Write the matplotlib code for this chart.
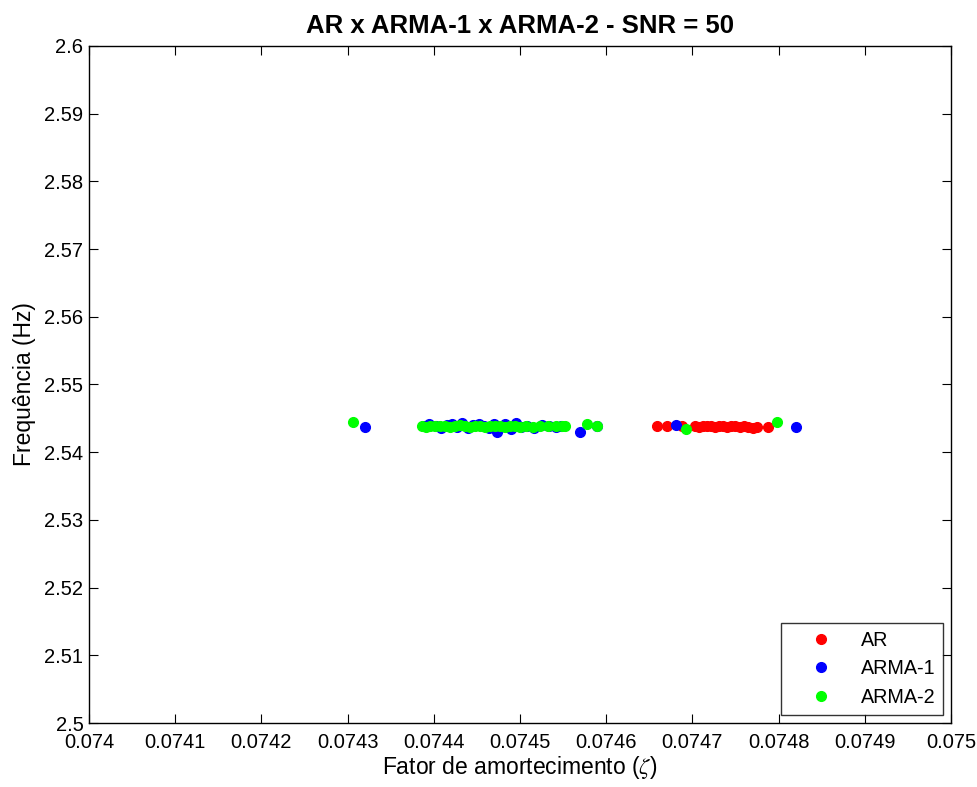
import matplotlib
matplotlib.use("Agg")
import matplotlib.pyplot as plt

plt.rcParams['font.family'] = ['Liberation Sans', 'DejaVu Sans']
plt.rcParams['mathtext.fontset'] = 'stix'

# AR estimates (damping factor, frequency)
ar_zeta = [0.0746589, 0.0746705, 0.0746879, 0.0747030, 0.0747076, 0.0747122,
           0.0747169, 0.0747215, 0.0747262, 0.0747308, 0.0747354, 0.0747401,
           0.0747447, 0.0747494, 0.0747552, 0.0747598, 0.0747644, 0.0747702,
           0.0747749, 0.0747876]
ar_freq = [2.5439, 2.5439, 2.5438, 2.5438, 2.5437, 2.5438, 2.5439, 2.5438,
           2.5437, 2.5438, 2.5438, 2.5437, 2.5438, 2.5438, 2.5437, 2.5438,
           2.5437, 2.5436, 2.5437, 2.5437]

# ARMA-1 estimates
arma1_zeta = [0.0743200, 0.0743890, 0.0743950, 0.0744020, 0.0744080, 0.0744150,
              0.0744210, 0.0744270, 0.0744330, 0.0744400, 0.0744460, 0.0744520,
              0.0744580, 0.0744640, 0.0744700, 0.0744730, 0.0744760, 0.0744830,
              0.0744890, 0.0744950, 0.0745010, 0.0745080, 0.0745160, 0.0745250,
              0.0745340, 0.0745420, 0.0745480, 0.0745700, 0.0745890, 0.0746810,
              0.0748200]
arma1_freq = [2.5437, 2.5439, 2.5442, 2.5438, 2.5436, 2.5440, 2.5441, 2.5437,
              2.5443, 2.5436, 2.5440, 2.5442, 2.5438, 2.5435, 2.5441, 2.5430,
              2.5436, 2.5442, 2.5434, 2.5443, 2.5437, 2.5439, 2.5436, 2.5440,
              2.5438, 2.5437, 2.5439, 2.5430, 2.5438, 2.5440, 2.5437]

# ARMA-2 estimates
arma2_zeta = [0.0743062, 0.0743863, 0.0743909, 0.0743956, 0.0744014, 0.0744072,
              0.0744130, 0.0744188, 0.0744246, 0.0744304, 0.0744362, 0.0744420,
              0.0744478, 0.0744536, 0.0744594, 0.0744652, 0.0744710, 0.0744768,
              0.0744826, 0.0744884, 0.0744942, 0.0745000, 0.0745069, 0.0745150,
              0.0745232, 0.0745324, 0.0745417, 0.0745487, 0.0745522, 0.0745777,
              0.0745893, 0.0746925, 0.0747981]
arma2_freq = [2.5444, 2.5439, 2.5437, 2.5439, 2.5438, 2.5439, 2.5438, 2.5437,
              2.5439, 2.5440, 2.5438, 2.5437, 2.5439, 2.5438, 2.5437, 2.5439,
              2.5438, 2.5439, 2.5437, 2.5438, 2.5439, 2.5437, 2.5438, 2.5437,
              2.5438, 2.5439, 2.5438, 2.5439, 2.5438, 2.5442, 2.5439, 2.5434,
              2.5444]

xticks = [0.074, 0.0741, 0.0742, 0.0743, 0.0744, 0.0745, 0.0746, 0.0747, 0.0748, 0.0749, 0.075]
xtick_labels = ['0.074', '0.0741', '0.0742', '0.0743', '0.0744', '0.0745',
                '0.0746', '0.0747', '0.0748', '0.0749', '0.075']
yticks = [2.5, 2.51, 2.52, 2.53, 2.54, 2.55, 2.56, 2.57, 2.58, 2.59, 2.6]
ytick_labels = ['2.5', '2.51', '2.52', '2.53', '2.54', '2.55', '2.56', '2.57', '2.58', '2.59', '2.6']

fig = plt.figure(figsize=(9.78, 7.87), dpi=100)
ax = fig.add_axes([0.091, 0.0813, 0.8814, 0.8603])

ax.plot(ar_zeta, ar_freq, 'o', color='#ff0000', markersize=7, label='AR')
ax.plot(arma1_zeta, arma1_freq, 'o', color='#0000ff', markersize=7, label='ARMA-1')
ax.plot(arma2_zeta, arma2_freq, 'o', color='#00ff00', markersize=7, label='ARMA-2')

ax.set_xlim(0.074, 0.075)
ax.set_ylim(2.5, 2.6)
ax.set_xticks(xticks)
ax.set_xticklabels(xtick_labels)
ax.set_yticks(yticks)
ax.set_yticklabels(ytick_labels)
ax.tick_params(direction='in', top=True, right=True, labelsize=14.5, length=6.5)
ax.tick_params(axis='x', pad=7.5)
ax.tick_params(axis='y', pad=4)
for s in ax.spines.values():
    s.set_linewidth(1.0)

ax.set_title('AR x ARMA-1 x ARMA-2 - SNR = 50', fontsize=18.5, fontweight='bold', pad=9)
ax.set_xlabel(r'Fator de amortecimento ($\zeta$)', fontsize=16.5, labelpad=1)
ax.set_ylabel('Frequência (Hz)', fontsize=16.5, labelpad=6)

leg = ax.legend(loc='lower right', fontsize=14.2, frameon=True, fancybox=False,
                edgecolor='black', borderaxespad=0.4, handlelength=3.3,
                handletextpad=0.35, borderpad=0.4, labelspacing=0.5)
leg.get_frame().set_linewidth(1.0)

fig.savefig('out.png', dpi=100)
